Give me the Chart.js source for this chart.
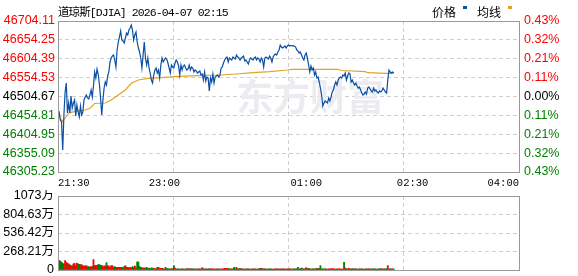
<!DOCTYPE html>
<html>
<head>
<meta charset="utf-8">
<script src="https://cdn.jsdelivr.net/npm/chart.js@4.4.1/dist/chart.umd.min.js"></script>
<style>
    html, body { margin: 0; padding: 0; background: #fff; }
    #wrap { position: relative; width: 578px; height: 276px; overflow: hidden; }
    #priceBox { position: absolute; left: 0; top: 0; width: 578px; height: 190px; overflow: hidden; }
    #volBox { position: absolute; left: 0; top: 190px; width: 578px; height: 86px; overflow: hidden; }
    canvas { display: block; }
    .txt { position: absolute; white-space: nowrap; color: #000; line-height: 12px; }
    .title { left: 58px; top: 3px; font: 11.5px 'Liberation Mono', 'Noto Sans CJK SC', monospace; letter-spacing: -0.9px; }
    .leg { top: 3px; font: 12px 'Noto Sans CJK SC', sans-serif; }
    .sw { position: absolute; top: 6px; width: 4px; height: 3px; }
</style>
</head>
<body>
<div id="wrap">
    <div id="priceBox"><canvas id="priceChart" width="578" height="190"></canvas></div>
    <div id="volBox"><canvas id="volChart" width="578" height="86"></canvas></div>
    <div class="txt title">道琼斯[DJIA] 2026-04-07 02:15</div>
    <div class="txt leg" style="left:432px">价格</div>
    <div class="sw" style="left:463px;background:#0b4fa3"></div>
    <div class="txt leg" style="left:477px">均线</div>
    <div class="sw" style="left:508px;background:#e0a526"></div>
</div>
<script>
// Session 21:30 - 04:00, one point per minute (index = minutes since 21:30)
const prevClose = 46504.67;

const prices = [
    46469.02, 46463.74, 46442.60, 46437.32, 46363.36, 46455.82, 46516.57, 46540.35, 46461.10, 46487.52,
    46461.10, 46506.01, 46474.31, 46487.52, 46495.44, 46453.17, 46482.23, 46463.74, 46450.53, 46479.59,
    46455.82, 46463.74, 46495.44, 46503.36, 46508.65, 46500.72, 46498.08, 46508.65, 46521.86, 46503.36,
    46532.42, 46569.40, 46553.56, 46577.33, 46564.12, 46537.71, 46500.72, 46455.82, 46495.44, 46527.14,
    46542.99, 46535.06, 46558.84, 46569.40, 46595.82, 46606.39, 46611.67, 46614.31, 46601.10, 46582.61,
    46627.52, 46648.65, 46661.86, 46677.71, 46653.94, 46651.30, 46646.01, 46659.22, 46672.43, 46667.14,
    46680.35, 46685.64, 46693.56, 46680.35, 46653.94, 46667.14, 46675.07, 46648.65, 46632.80, 46622.24,
    46606.39, 46579.97, 46614.31, 46648.65, 46606.39, 46587.90, 46606.39, 46579.97, 46566.76, 46548.27,
    46540.35, 46561.48, 46574.69, 46579.97, 46566.76, 46574.69, 46553.56, 46587.90, 46606.39, 46595.82,
    46601.10, 46606.39, 46603.75, 46593.18, 46579.97, 46566.76, 46587.90, 46582.61, 46579.97, 46593.18,
    46601.10, 46595.82, 46585.25, 46561.48, 46587.90, 46574.69, 46585.25, 46587.90, 46579.97, 46574.69,
    46577.33, 46587.90, 46574.69, 46582.61, 46579.97, 46569.40, 46574.69, 46572.05, 46566.76, 46569.40,
    46572.05, 46561.48, 46564.12, 46548.27, 46569.40, 46545.63, 46556.20, 46553.56, 46519.21, 46553.56,
    46542.99, 46564.12, 46540.35, 46556.20, 46558.84, 46561.48, 46556.20, 46561.48, 46579.97, 46582.61,
    46593.18, 46601.10, 46606.39, 46609.03, 46595.82, 46606.39, 46603.75, 46601.10, 46609.03, 46606.39,
    46603.75, 46614.31, 46609.03, 46606.39, 46601.10, 46606.39, 46609.03, 46611.67, 46598.46, 46601.10,
    46595.82, 46590.54, 46601.10, 46606.39, 46603.75, 46601.10, 46606.39, 46609.03, 46601.10, 46606.39,
    46603.75, 46595.82, 46606.39, 46601.10, 46582.61, 46606.39, 46609.03, 46606.39, 46603.75, 46611.67,
    46606.39, 46595.82, 46609.03, 46614.31, 46616.95, 46614.31, 46622.24, 46627.52, 46640.73, 46635.44,
    46632.80, 46635.44, 46638.09, 46632.80, 46638.09, 46640.73, 46638.09, 46639.41, 46638.09, 46638.88,
    46638.09, 46635.44, 46627.52, 46624.88, 46619.60, 46622.24, 46614.31, 46606.39, 46601.10, 46614.31,
    46619.60, 46606.39, 46587.90, 46569.40, 46585.25, 46574.69, 46579.97, 46561.48, 46569.40, 46553.56,
    46556.20, 46542.99, 46527.14, 46508.65, 46479.59, 46487.52, 46492.80, 46490.16, 46487.52, 46500.72,
    46492.80, 46503.36, 46516.57, 46521.86, 46535.06, 46542.99, 46535.06, 46548.27, 46553.56, 46556.20,
    46553.56, 46561.48, 46558.84, 46566.76, 46548.27, 46558.84, 46566.76, 46564.12, 46542.99, 46548.27,
    46540.35, 46535.06, 46540.35, 46532.42, 46527.14, 46529.78, 46521.86, 46513.93, 46508.65, 46511.29,
    46516.57, 46511.29, 46527.14, 46529.78, 46524.50, 46519.21, 46516.57, 46527.14, 46519.21, 46521.86,
    46516.57, 46513.93, 46519.21, 46516.57, 46519.21, 46527.14, 46521.86, 46516.57, 46513.93, 46548.27,
    46574.69, 46569.40, 46566.76, 46569.40, 46566.76
];

// average price line, read at these minutes
const avgTimes = [0, 2, 4, 9, 14, 23, 27, 31, 40, 45, 51, 57, 62, 68, 76, 88, 98, 123, 137, 151, 165, 179, 194, 198, 237, 240, 260, 262, 277, 284];
const avgValues = [46463.74, 46446.57, 46438.65, 46461.10, 46464.53, 46469.02, 46473.51, 46486.19, 46487.52, 46495.44,
    46508.65, 46521.86, 46539.55, 46548.27, 46552.76, 46554.35, 46556.99, 46560.69, 46561.48, 46564.12,
    46567.56, 46570.20, 46574.69, 46576.54, 46576.54, 46573.37, 46570.20, 46567.56, 46565.97, 46565.97];

// volume per minute, in 万
const volumes = [
    990, 137, 130, 112, 98, 85, 137, 112, 98, 88,
    75, 63, 59, 88, 98, 63, 98, 88, 83, 78,
    78, 59, 59, 59, 63, 49, 49, 40, 49, 49,
    151, 63, 68, 68, 78, 78, 68, 68, 49, 59,
    59, 107, 63, 59, 39, 63, 63, 39, 49, 39,
    39, 39, 39, 39, 39, 30, 49, 63, 39, 39,
    30, 39, 30, 49, 39, 59, 30, 117, 117, 49,
    39, 30, 29, 29, 29, 39, 20, 29, 20, 29,
    29, 20, 20, 15, 39, 39, 20, 25, 25, 20,
    15, 39, 20, 20, 15, 15, 20, 20, 63, 29,
    15, 15, 18, 12, 15, 18, 15, 12, 18, 15,
    20, 15, 20, 18, 15, 18, 15, 12, 18, 15,
    18, 15, 34, 18, 15, 18, 12, 15, 18, 20,
    15, 18, 15, 12, 18, 15, 18, 15, 12, 18,
    15, 25, 25, 20, 25, 18, 15, 18, 15, 39,
    18, 39, 18, 15, 25, 15, 18, 15, 12, 18,
    15, 18, 15, 12, 15, 18, 15, 18, 12, 15,
    18, 25, 25, 20, 15, 18, 15, 12, 18, 15,
    18, 15, 12, 15, 18, 15, 18, 12, 15, 18,
    15, 18, 15, 12, 18, 15, 18, 15, 12, 15,
    18, 15, 18, 39, 15, 18, 29, 18, 15, 18,
    34, 20, 25, 18, 15, 15, 18, 15, 20, 20,
    25, 20, 63, 15, 18, 15, 18, 15, 12, 18,
    15, 18, 20, 18, 15, 12, 18, 15, 18, 15,
    12, 15, 112, 29, 18, 15, 25, 18, 15, 18,
    20, 15, 18, 15, 12, 18, 15, 18, 15, 12,
    15, 18, 15, 18, 12, 15, 18, 15, 18, 15,
    12, 18, 15, 20, 18, 15, 18, 15, 20, 63,
    15, 18, 15, 18, 15
];

const priceTicks = [46305.23, 46355.09, 46404.95, 46454.81, 46504.67, 46554.53, 46604.39, 46654.25, 46704.11];
const pctLabels = ['0.43%', '0.32%', '0.21%', '0.11%', '0.00%', '0.11%', '0.21%', '0.32%', '0.43%'];
const timeTicks = [0, 90, 210, 300, 390];
const timeLabels = ['21:30', '23:00', '01:00', '02:30', '04:00'];
const gridTimes = [0, 97.5, 195, 292.5, 390];
const volMax = 1073;
const volLabels = ['0', '268.21万', '536.42万', '804.63万', '1073万'];

const UP = '#ff0000';
const DOWN = '#008000';
const GRID = '#cfcfcf';
const SANS = "'Liberation Sans', 'Noto Sans CJK SC', sans-serif";

function tickColor(v) {
    if (v > prevClose + 0.001) return UP;
    if (v < prevClose - 0.001) return DOWN;
    return '#000';
}

function setTicks(values) {
    return scale => { scale.ticks = values.map(v => ({ value: v })); };
}

// fixed axis width, and no extra room reserved for the end labels
function fixWidth(w) {
    return scale => {
        scale.width = w;
        scale.paddingTop = 0;
        scale.paddingBottom = 0;
    };
}

// Gray frame around the plot area
const frame = {
    id: 'frame',
    afterDraw(chart) {
        const { ctx, chartArea: a } = chart;
        ctx.save();
        ctx.strokeStyle = '#9a9a9a';
        ctx.lineWidth = 1;
        const l = Math.floor(a.left) + 0.5, t = Math.floor(a.top) + 0.5;
        ctx.strokeRect(l, t, Math.floor(a.right) - Math.floor(a.left), Math.floor(a.bottom) - Math.floor(a.top));
        ctx.restore();
    }
};

// Faint brand watermark
const watermark = {
    id: 'watermark',
    beforeDatasetsDraw(chart) {
        const ctx = chart.ctx;
        ctx.save();
        ctx.fillStyle = '#ececf0';
        ctx.font = "bold 37px 'Noto Sans CJK SC', sans-serif";
        ctx.textBaseline = 'middle';
        ctx.fillText('东方财富', 236, 97);
        ctx.restore();
    }
};

const gridAxis = (height) => ({
    type: 'linear', min: 0, max: 390, position: 'bottom', offset: false,
    afterBuildTicks: setTicks(gridTimes),
    afterFit: s => { s.height = height; },
    ticks: { display: false },
    grid: { color: GRID, drawTicks: false, offset: false },
    border: { display: false, dash: [4, 3] }
});

new Chart(document.getElementById('priceChart'), {
    type: 'line',
    data: {
        datasets: [
            {
                label: '价格',
                data: prices.map((v, i) => ({ x: i, y: v })),
                borderColor: '#0b4fa3',
                borderWidth: 1.2,
                pointRadius: 0,
                tension: 0
            },
            {
                label: '均线',
                data: avgTimes.map((t, i) => ({ x: t, y: avgValues[i] })),
                borderColor: '#e0a526',
                borderWidth: 1.2,
                pointRadius: 0,
                tension: 0
            }
        ]
    },
    options: {
        responsive: false,
        animation: false,
        events: [],
        layout: { padding: { top: 21, left: 0, right: 0, bottom: 0 } },
        plugins: { legend: { display: false }, tooltip: { enabled: false } },
        scales: {
            x: {
                type: 'linear', min: 0, max: 390, position: 'bottom',
                afterBuildTicks: setTicks(timeTicks),
                afterFit: s => { s.height = 18; },
                grid: { display: false, drawTicks: false },
                border: { display: false },
                ticks: {
                    align: 'inner', autoSkip: false, maxRotation: 0, padding: 5,
                    color: '#000',
                    font: { family: "'Liberation Mono', monospace", size: 10.5 },
                    callback: (v, i) => timeLabels[i]
                }
            },
            xg: gridAxis(0),
            y: {
                min: priceTicks[0], max: priceTicks[priceTicks.length - 1],
                afterBuildTicks: setTicks(priceTicks),
                afterFit: fixWidth(58),
                grid: { color: GRID, drawTicks: false },
                border: { display: false, dash: [4, 3] },
                ticks: {
                    autoSkip: false,
                    padding: 3,
                    font: { family: SANS, size: 12.5 },
                    color: c => tickColor(c.tick.value),
                    callback: v => v.toFixed(2)
                }
            },
            yr: {
                position: 'right',
                min: priceTicks[0], max: priceTicks[priceTicks.length - 1],
                afterBuildTicks: setTicks(priceTicks),
                afterFit: fixWidth(59),
                grid: { display: false, drawTicks: false },
                border: { display: false },
                ticks: {
                    autoSkip: false,
                    padding: 5,
                    font: { family: SANS, size: 12.5 },
                    color: c => tickColor(c.tick.value),
                    callback: (v, i) => pctLabels[i]
                }
            }
        }
    },
    plugins: [watermark, frame]
});

// bar colour follows the minute's price move
const volColors = prices.map((p, i) => (p >= (i === 0 ? prevClose : prices[i - 1]) ? UP : DOWN));

new Chart(document.getElementById('volChart'), {
    type: 'bar',
    data: {
        datasets: [{
            data: volumes.map((v, i) => ({ x: i, y: v })),
            backgroundColor: volColors,
            borderWidth: 0,
            barPercentage: 1,
            categoryPercentage: 1
        }]
    },
    options: {
        responsive: false,
        animation: false,
        events: [],
        layout: { padding: { top: 6, left: 0, right: 59, bottom: 6 } },
        plugins: { legend: { display: false }, tooltip: { enabled: false } },
        scales: {
            x: gridAxis(0),
            y: {
                type: 'linear',
                min: 0, max: volMax,
                afterFit: fixWidth(58),
                grid: { color: GRID, drawTicks: false },
                border: { display: false, dash: [4, 3] },
                ticks: {
                    stepSize: volMax / 4,
                    autoSkip: false,
                    padding: 4,
                    color: '#000',
                    font: { family: SANS, size: 12.5 },
                    callback: (v, i) => volLabels[i]
                }
            }
        }
    },
    plugins: [frame]
});
</script>
</body>
</html>
